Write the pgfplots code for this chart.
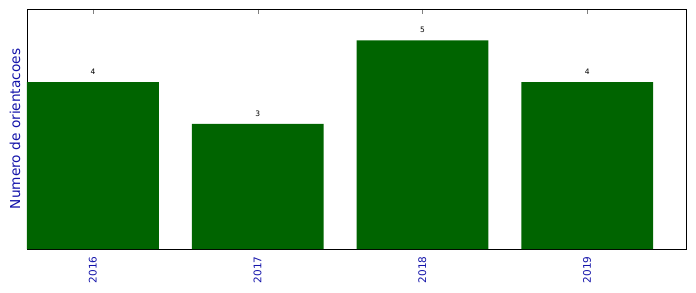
\documentclass[border=0pt]{standalone}
\usepackage{pgfplots}
\pgfplotsset{compat=1.18}
\usepackage{fontspec}
\setmainfont{DejaVu Sans}
\definecolor{bargreen}{RGB}{0,100,0}
\definecolor{labblue}{RGB}{20,20,170}
\begin{document}
\begin{tikzpicture}
\begin{axis}[
  name=ax,
  scale only axis,
  width=659pt, height=240pt,
  xmin=-0.4, xmax=3.6, ymin=0, ymax=5.75,
  xtick={0,1,2,3},
  xticklabels={2016,2017,2018,2019},
  xticklabel style={rotate=90, anchor=east, font=\fontsize{10.5}{12}\selectfont, text=labblue},
  xticklabel shift=4pt,
  ytick=\empty,
  tick align=inside,
  xtick pos=both,
  major tick length=5pt,
  /pgf/number format/assume math mode=true,
  ylabel={Numero de orientacoes},
  every axis y label/.style={at={(rel axis cs:0,0.5)}, xshift=-12pt, rotate=90, anchor=center, font=\fontsize{13.7}{15}\selectfont, text=labblue},
  axis line style={black, line width=0.8pt},
  nodes near coords,
  nodes near coords style={font=\fontsize{7.5}{8}\selectfont, yshift=4pt},
]
\addplot[ybar, bar width=0.8, fill=bargreen, draw=none] coordinates {(0,4) (1,3) (2,5) (3,4)};
\end{axis}
\pgfresetboundingbox
\path (ax.south west) ++(-27pt,-43pt) coordinate (bl);
\path (ax.north east) ++(10pt,9pt) coordinate (tr);
\path (bl) rectangle (tr);
\end{tikzpicture}
\end{document}
